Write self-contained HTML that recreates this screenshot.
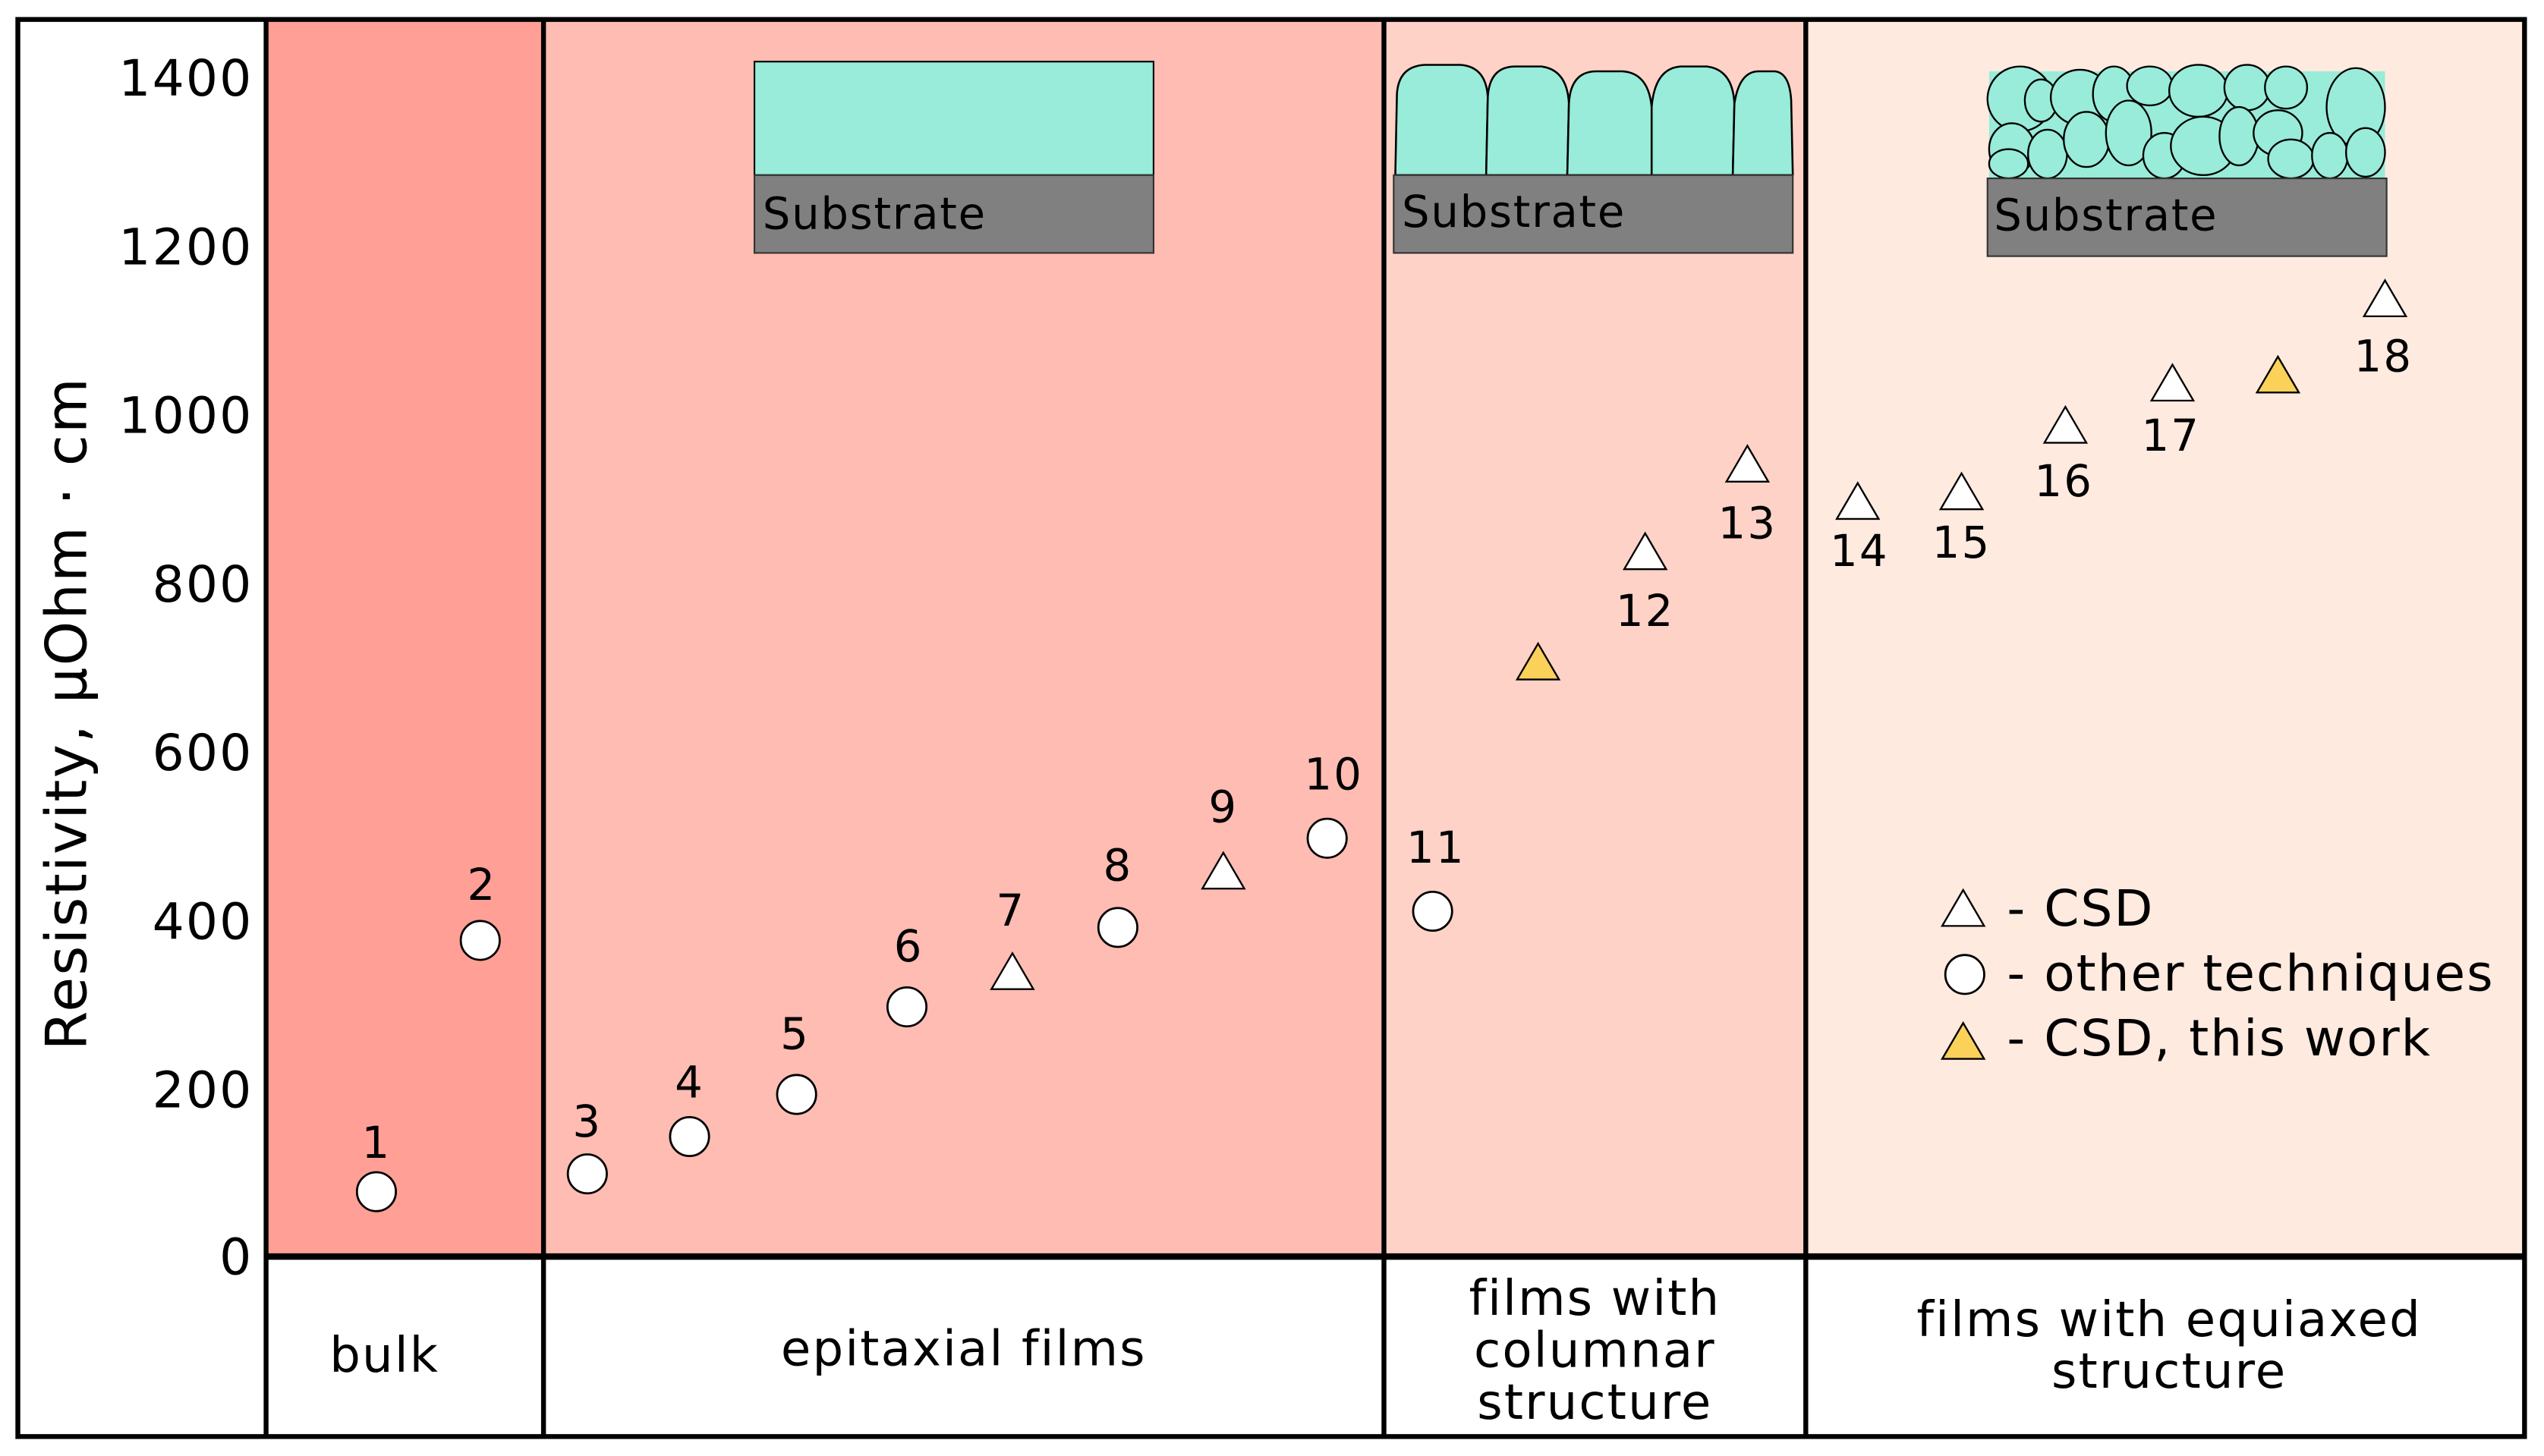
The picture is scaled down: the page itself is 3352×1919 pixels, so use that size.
<!DOCTYPE html>
<html><head><meta charset="utf-8"><style>
html,body{margin:0;padding:0;background:#fff;}
svg{display:block;}
text{font-family:"DejaVu Sans","Liberation Sans",sans-serif;fill:#000;}
</style></head><body>
<svg width="3352" height="1919" viewBox="0 0 1568 898" preserveAspectRatio="none" xmlns="http://www.w3.org/2000/svg">
<defs>
<symbol id="tri" viewBox="0 0 30 26" overflow="visible"><polygon points="15,1 29,25 1,25" stroke="#000" stroke-width="1.2"/></symbol>
</defs>
<rect x="164" y="12" width="171" height="763" fill="#ff9f96"/>
<rect x="335" y="12" width="518" height="763" fill="#ffbcb2"/>
<rect x="853" y="12" width="260" height="763" fill="#ffd2c7"/>
<rect x="1113" y="12" width="443" height="763" fill="#ffeadf"/>
<g stroke="#000" stroke-width="3" fill="none">
<rect x="11" y="12" width="1545" height="874"/>
<line x1="164" y1="12" x2="164" y2="886"/>
<line x1="335" y1="12" x2="335" y2="886"/>
<line x1="853" y1="12" x2="853" y2="886"/>
<line x1="1113" y1="12" x2="1113" y2="886"/>
<line x1="164" y1="775" x2="1556" y2="775" stroke-width="4"/>
</g>
<g font-size="31" text-anchor="end" letter-spacing="1">
<text x="156" y="59">1400</text>
<text x="156" y="163">1200</text>
<text x="156" y="267">1000</text>
<text x="156" y="371">800</text>
<text x="156" y="475">600</text>
<text x="156" y="579">400</text>
<text x="156" y="683">200</text>
<text x="156" y="786">0</text>
</g>
<text x="0" y="0" font-size="35" letter-spacing="1" text-anchor="middle" transform="translate(53,440) rotate(-90)">Resistivity, μOhm · cm</text>
<rect x="465" y="38" width="246" height="70" fill="#98ecd9" stroke="#000" stroke-width="1"/>
<rect x="465" y="108" width="246" height="48" fill="#808080" stroke="#333" stroke-width="1"/>
<text x="470" y="141" font-size="27" letter-spacing="0.8">Substrate</text>

<g fill="#98ecd9" stroke="#000" stroke-width="1.2">
<path d="M860,108 L861,58 Q862,41 878,40 L900,40 Q916,41 917,60 L916,108 Z"/>
<path d="M916,108 L917,60 Q918,41 934,41 L950,41 Q966,43 967,64 L966,108 Z"/>
<path d="M966,108 L967,64 Q968,44 984,44 L1000,44 Q1016,45 1018,66 L1018,108 Z"/>
<path d="M1018,108 L1018,66 Q1020,42 1036,41 L1052,41 Q1068,43 1069,64 L1068,108 Z"/>
<path d="M1068,108 L1069,64 Q1072,44 1084,44 L1094,44 Q1103,45 1104,62 L1105,108 Z"/>
</g>
<rect x="859" y="108" width="246" height="48" fill="#808080" stroke="#333" stroke-width="1"/>
<text x="864" y="140" font-size="27" letter-spacing="0.8">Substrate</text>

<g fill="#98ecd9" stroke="#000" stroke-width="1.1">
<rect x="1226" y="44" width="244" height="66" fill="#98ecd9" stroke="none"/>
<ellipse cx="1245" cy="61" rx="20" ry="20"/>
<ellipse cx="1258" cy="62" rx="10" ry="13"/>
<ellipse cx="1282" cy="60" rx="18" ry="17"/>
<ellipse cx="1303" cy="58" rx="13" ry="17"/>
<ellipse cx="1325" cy="53" rx="14" ry="12"/>
<ellipse cx="1355" cy="56" rx="18" ry="16"/>
<ellipse cx="1385" cy="54" rx="14" ry="14"/>
<ellipse cx="1409" cy="54" rx="13" ry="13"/>
<ellipse cx="1452" cy="66" rx="18" ry="24"/>
<ellipse cx="1240" cy="92" rx="14" ry="16"/>
<ellipse cx="1238" cy="101" rx="12" ry="9"/>
<ellipse cx="1262" cy="95" rx="12" ry="15"/>
<ellipse cx="1286" cy="86" rx="14" ry="17"/>
<ellipse cx="1312" cy="82" rx="14" ry="20"/>
<ellipse cx="1334" cy="96" rx="13" ry="14"/>
<ellipse cx="1358" cy="90" rx="20" ry="18"/>
<ellipse cx="1380" cy="84" rx="12" ry="18"/>
<ellipse cx="1404" cy="82" rx="15" ry="14"/>
<ellipse cx="1412" cy="98" rx="14" ry="12"/>
<ellipse cx="1436" cy="96" rx="11" ry="14"/>
<ellipse cx="1458" cy="94" rx="12" ry="15"/>
</g>
<rect x="1225" y="110" width="246" height="48" fill="#808080" stroke="#333" stroke-width="1"/>
<text x="1229" y="142" font-size="27" letter-spacing="0.8">Substrate</text>

<g fill="#fff" stroke="#000" stroke-width="1.3">
<circle cx="232" cy="735" r="12"/>
<circle cx="296" cy="580" r="12"/>
<circle cx="362" cy="724" r="12"/>
<circle cx="425" cy="701" r="12"/>
<circle cx="491" cy="675" r="12"/>
<circle cx="559" cy="621" r="12"/>
<circle cx="689" cy="572" r="12"/>
<circle cx="818" cy="517" r="12"/>
<circle cx="883" cy="562" r="12"/>
<circle cx="1211" cy="601" r="12"/>
</g>
<g fill="#fff">
<use href="#tri" x="610" y="587" width="28" height="24"/>
<use href="#tri" x="740" y="525" width="28" height="24"/>
<use href="#tri" x="1000" y="328" width="28" height="24"/>
<use href="#tri" x="1063" y="274" width="28" height="24"/>
<use href="#tri" x="1131" y="297" width="28" height="24"/>
<use href="#tri" x="1195" y="291" width="28" height="24"/>
<use href="#tri" x="1259" y="250" width="28" height="24"/>
<use href="#tri" x="1325" y="224" width="28" height="24"/>
<use href="#tri" x="1456" y="172" width="28" height="24"/>
<use href="#tri" x="1196" y="548" width="28" height="24"/>
</g>
<g fill="#fcd15a">
<use href="#tri" x="934" y="396" width="28" height="24"/>
<use href="#tri" x="1390" y="219" width="28" height="24"/>
<use href="#tri" x="1196" y="630" width="28" height="24"/>
</g>
<g font-size="27" text-anchor="middle" letter-spacing="1">
<text x="232" y="714">1</text>
<text x="297" y="555">2</text>
<text x="362" y="701">3</text>
<text x="425" y="677">4</text>
<text x="490" y="647">5</text>
<text x="560" y="593">6</text>
<text x="623" y="571">7</text>
<text x="689" y="543">8</text>
<text x="754" y="507">9</text>
<text x="822" y="487">10</text>
<text x="885" y="532">11</text>
<text x="1014" y="386">12</text>
<text x="1077" y="332">13</text>
<text x="1146" y="349">14</text>
<text x="1209" y="344">15</text>
<text x="1272" y="306">16</text>
<text x="1338" y="278">17</text>
<text x="1469" y="229">18</text>
</g>
<g font-size="31" letter-spacing="0.9">
<text x="1237" y="571">- CSD</text>
<text x="1237" y="611">- other techniques</text>
<text x="1237" y="651">- CSD, this work</text>
</g>
<g font-size="30" text-anchor="middle" letter-spacing="1">
<text x="237" y="846">bulk</text>
<text x="594" y="842">epitaxial films</text>
<text x="983" y="811">films with</text>
<text x="983" y="843">columnar</text>
<text x="983" y="875">structure</text>
<text x="1337" y="824">films with equiaxed</text>
<text x="1337" y="856">structure</text>
</g>
</svg>
</body></html>
